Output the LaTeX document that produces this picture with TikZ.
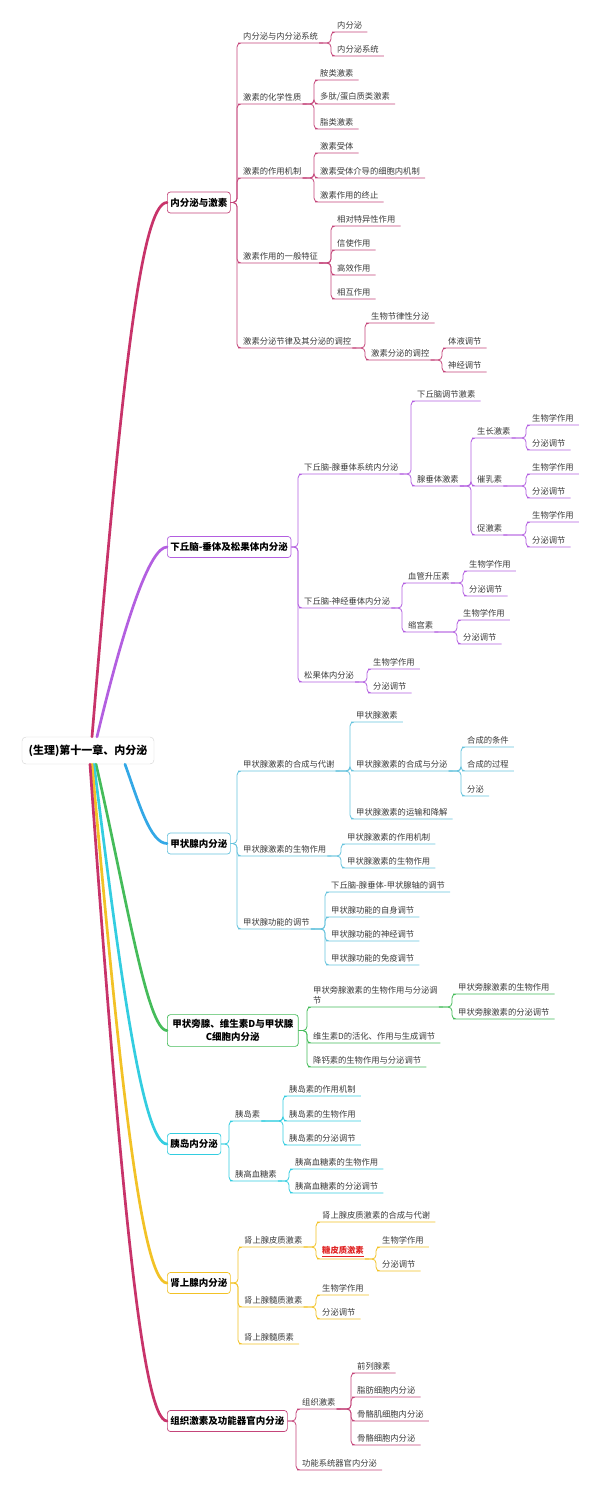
\documentclass[tikz,border=0pt]{standalone}
\usepackage{fontspec}
\setmainfont{Noto Sans CJK SC}
\usepackage{tikz}
\definecolor{txt}{HTML}{3A3A3A}
\definecolor{cA}{HTML}{C8336A}
\definecolor{sA}{HTML}{C4457A}
\definecolor{cB}{HTML}{B35FE0}
\definecolor{cC}{HTML}{33A8E6}
\definecolor{sC}{HTML}{67C3DD}
\definecolor{cD}{HTML}{45BC5A}
\definecolor{cE}{HTML}{33CDE0}
\definecolor{cF}{HTML}{F2C226}
\definecolor{red1}{HTML}{E02424}

\begin{document}
\begin{tikzpicture}[x=1pt, y=-1pt,
  lf/.style={anchor=south west, inner xsep=1pt, inner ysep=2.5pt, font=\fontsize{8.3}{10}\selectfont, text=txt},
  mb/.style={draw=#1, fill=white, rounded corners=3pt, anchor=west, inner xsep=3pt, minimum height=21pt, line width=0.7pt, font=\fontsize{9.5}{12.5}\selectfont\bfseries},
  sub/.style={draw=#1, line width=0.8pt, rounded corners=4pt,
    to path={-- ([xshift=-5pt]\tikztotarget.south west |- \tikztostart) |- (\tikztotarget.south west) -- ([xshift=4pt]\tikztotarget.south east)}},
  trunk/.style={draw=#1, line width=2.7pt, line cap=round}]
\useasboundingbox (0,0) rectangle (600,1502);
% Root and main topics
\node[draw=gray!35, fill=white, rounded corners=4pt, minimum width=132pt, minimum height=27pt, font=\fontsize{11}{13}\selectfont\bfseries] (root) at (88,750.5) {(生理)第十一章、内分泌};
\node[mb=sA] (M1) at (167,202.5) {内分泌与激素};
\node[mb=cB] (M2) at (167,547) {下丘脑-垂体及松果体内分泌};
\node[mb=sC] (M3) at (167,843.5) {甲状腺内分泌};
\node[mb=cD, align=center, inner xsep=5pt, inner ysep=5pt] (M4) at (167,1030.5) {甲状旁腺、维生素D与甲状腺\\C细胞内分泌};
\node[mb=cE] (M5) at (167,1144) {胰岛内分泌};
\node[mb=cF] (M6) at (167,1283) {肾上腺内分泌};
\node[mb=sA] (M7) at (167,1421) {组织激素及功能器官内分泌};
% Trunks from the root
\draw[trunk=cA] ([xshift=4pt]root.north) .. controls +(28,-337) and +(-27,0) .. (M1.west);
\draw[trunk=cB] ([xshift=9pt]root.north) .. controls +(28,-117) and +(-17,0) .. (M2.west);
\draw[trunk=cC] ([xshift=37pt]root.south) .. controls +(13,36) and +(-17,0) .. (M3.west);
\draw[trunk=cD] ([xshift=8pt]root.south) .. controls +(30,130) and +(-20,0) .. (M4.west);
\draw[trunk=cE] ([xshift=6pt]root.south) .. controls +(25,200) and +(-25,0) .. (M5.west);
\draw[trunk=cF] ([xshift=4pt]root.south) .. controls +(25,280) and +(-27,0) .. (M6.west);
\draw[trunk=cA] ([xshift=2pt]root.south) .. controls +(30,420) and +(-25,0) .. (M7.west);
% Branch 1
\node[lf] (A1) at (242,43) {内分泌与内分泌系统};
\node[lf] (A2) at (242,104) {激素的化学性质};
\node[lf] (A3) at (242,178) {激素的作用机制};
\node[lf] (A4) at (242,263) {激素作用的一般特征};
\node[lf] (A5) at (242,348) {激素分泌节律及其分泌的调控};
\node[lf] (A11) at (336,32) {内分泌};
\node[lf] (A12) at (336,56) {内分泌系统};
\node[lf] (A21) at (319,80) {胺类激素};
\node[lf] (A22) at (319,104) {多肽/蛋白质类激素};
\node[lf] (A23) at (319,129) {脂类激素};
\node[lf] (A31) at (319,153) {激素受体};
\node[lf] (A32) at (319,178) {激素受体介导的细胞内机制};
\node[lf] (A33) at (319,202) {激素作用的终止};
\node[lf] (A41) at (336,226) {相对特异性作用};
\node[lf] (A42) at (336,250) {信使作用};
\node[lf] (A43) at (336,275) {高效作用};
\node[lf] (A44) at (336,299) {相互作用};
\node[lf] (A51) at (370,323) {生物节律性分泌};
\node[lf] (A52) at (370,360) {激素分泌的调控};
\node[lf] (A521) at (447,348) {体液调节};
\node[lf] (A522) at (447,372) {神经调节};
\foreach \c in {A1,A2,A3,A4,A5} \draw[sub=sA] (M1.east) to (\c);
\foreach \c in {A11,A12} \draw[sub=sA] (A1.south east) to (\c);
\foreach \c in {A21,A22,A23} \draw[sub=sA] (A2.south east) to (\c);
\foreach \c in {A31,A32,A33} \draw[sub=sA] (A3.south east) to (\c);
\foreach \c in {A41,A42,A43,A44} \draw[sub=sA] (A4.south east) to (\c);
\foreach \c in {A51,A52} \draw[sub=sA] (A5.south east) to (\c);
\foreach \c in {A521,A522} \draw[sub=sA] (A52.south east) to (\c);
% Branch 2
\node[lf] (B1) at (303,474) {下丘脑-腺垂体系统内分泌};
\node[lf] (B2) at (303,608) {下丘脑-神经垂体内分泌};
\node[lf] (B3) at (303,682) {松果体内分泌};
\node[lf] (B11) at (416,401) {下丘脑调节激素};
\node[lf] (B12) at (416,486) {腺垂体激素};
\node[lf] (B121) at (476,438) {生长激素};
\node[lf] (B122) at (476,486) {催乳素};
\node[lf] (B123) at (476,535) {促激素};
\node[lf] (B1211) at (531,425) {生物学作用};
\node[lf] (B1212) at (531,450) {分泌调节};
\node[lf] (B1221) at (531,474) {生物学作用};
\node[lf] (B1222) at (531,498) {分泌调节};
\node[lf] (B1231) at (531,522) {生物学作用};
\node[lf] (B1232) at (531,547) {分泌调节};
\node[lf] (B21) at (407,583) {血管升压素};
\node[lf] (B22) at (407,632) {缩宫素};
\node[lf] (B211) at (468,571) {生物学作用};
\node[lf] (B212) at (468,596) {分泌调节};
\node[lf] (B221) at (462,620) {生物学作用};
\node[lf] (B222) at (462,644) {分泌调节};
\node[lf] (B31) at (372,669) {生物学作用};
\node[lf] (B32) at (372,693) {分泌调节};
\foreach \c in {B1,B2,B3} \draw[sub=cB] (M2.east) to (\c);
\foreach \c in {B11,B12} \draw[sub=cB] (B1.south east) to (\c);
\foreach \c in {B121,B122,B123} \draw[sub=cB] (B12.south east) to (\c);
\foreach \c in {B1211,B1212} \draw[sub=cB] (B121.south east) to (\c);
\foreach \c in {B1221,B1222} \draw[sub=cB] (B122.south east) to (\c);
\foreach \c in {B1231,B1232} \draw[sub=cB] (B123.south east) to (\c);
\foreach \c in {B21,B22} \draw[sub=cB] (B2.south east) to (\c);
\foreach \c in {B211,B212} \draw[sub=cB] (B21.south east) to (\c);
\foreach \c in {B221,B222} \draw[sub=cB] (B22.south east) to (\c);
\foreach \c in {B31,B32} \draw[sub=cB] (B3.south east) to (\c);
% Branch 3
\node[lf] (C1) at (242,771) {甲状腺激素的合成与代谢};
\node[lf] (C2) at (242,856) {甲状腺激素的生物作用};
\node[lf] (C3) at (242,929) {甲状腺功能的调节};
\node[lf] (C11) at (355,722) {甲状腺激素};
\node[lf] (C12) at (355,771) {甲状腺激素的合成与分泌};
\node[lf] (C13) at (355,819) {甲状腺激素的运输和降解};
\node[lf] (C121) at (466,747) {合成的条件};
\node[lf] (C122) at (466,771) {合成的过程};
\node[lf] (C123) at (466,796) {分泌};
\node[lf] (C21) at (346,844) {甲状腺激素的作用机制};
\node[lf] (C22) at (346,868) {甲状腺激素的生物作用};
\node[lf] (C31) at (330,892) {下丘脑-腺垂体-甲状腺轴的调节};
\node[lf] (C32) at (330,917) {甲状腺功能的自身调节};
\node[lf] (C33) at (330,941) {甲状腺功能的神经调节};
\node[lf] (C34) at (330,965) {甲状腺功能的免疫调节};
\foreach \c in {C1,C2,C3} \draw[sub=sC] (M3.east) to (\c);
\foreach \c in {C11,C12,C13} \draw[sub=sC] (C1.south east) to (\c);
\foreach \c in {C121,C122,C123} \draw[sub=sC] (C12.south east) to (\c);
\foreach \c in {C21,C22} \draw[sub=sC] (C2.south east) to (\c);
\foreach \c in {C31,C32,C33,C34} \draw[sub=sC] (C3.south east) to (\c);
% Branch 4
\node[lf, align=left] (D1) at (312,1007) {甲状旁腺激素的生物作用与分泌调\\节};
\node[lf] (D2) at (312,1043) {维生素D的活化、作用与生成调节};
\node[lf] (D3) at (312,1067) {降钙素的生物作用与分泌调节};
\node[lf] (D11) at (457,994) {甲状旁腺激素的生物作用};
\node[lf] (D12) at (457,1019) {甲状旁腺激素的分泌调节};
\foreach \c in {D1,D2,D3} \draw[sub=cD] (M4.east) to (\c);
\foreach \c in {D11,D12} \draw[sub=cD] (D1.south east) to (\c);
% Branch 5
\node[lf] (E1) at (234,1121) {胰岛素};
\node[lf] (E2) at (234,1181) {胰高血糖素};
\node[lf] (E11) at (288,1096) {胰岛素的作用机制};
\node[lf] (E12) at (288,1121) {胰岛素的生物作用};
\node[lf] (E13) at (288,1145) {胰岛素的分泌调节};
\node[lf] (E21) at (294,1169) {胰高血糖素的生物作用};
\node[lf] (E22) at (294,1193) {胰高血糖素的分泌调节};
\foreach \c in {E1,E2} \draw[sub=cE] (M5.east) to (\c);
\foreach \c in {E11,E12,E13} \draw[sub=cE] (E1.south east) to (\c);
\foreach \c in {E21,E22} \draw[sub=cE] (E2.south east) to (\c);
% Branch 6
\node[lf] (F1) at (243,1247) {肾上腺皮质激素};
\node[lf] (F2) at (243,1307) {肾上腺髓质激素};
\node[lf] (F3) at (243,1344) {肾上腺髓质素};
\node[lf] (F11) at (321,1222) {肾上腺皮质激素的合成与代谢};
\node[lf, text=red1, font=\fontsize{8.3}{10}\selectfont\bfseries] (F12) at (321,1259) {\underline{糖皮质激素}};
\node[lf] (F121) at (381,1247) {生物学作用};
\node[lf] (F122) at (381,1271) {分泌调节};
\node[lf] (F21) at (321,1295) {生物学作用};
\node[lf] (F22) at (321,1319) {分泌调节};
\foreach \c in {F1,F2,F3} \draw[sub=cF] (M6.east) to (\c);
\foreach \c in {F11,F12} \draw[sub=cF] (F1.south east) to (\c);
\foreach \c in {F121,F122} \draw[sub=cF] (F12.south east) to (\c);
\foreach \c in {F21,F22} \draw[sub=cF] (F2.south east) to (\c);
% Branch 7
\node[lf] (G1) at (301,1409) {组织激素};
\node[lf] (G2) at (301,1470) {功能系统器官内分泌};
\node[lf] (G11) at (356,1373) {前列腺素};
\node[lf] (G12) at (356,1397) {脂肪细胞内分泌};
\node[lf] (G13) at (356,1421) {骨骼肌细胞内分泌};
\node[lf] (G14) at (356,1445) {骨骼细胞内分泌};
\foreach \c in {G1,G2} \draw[sub=sA] (M7.east) to (\c);
\foreach \c in {G11,G12,G13,G14} \draw[sub=sA] (G1.south east) to (\c);
\end{tikzpicture}
\end{document}
